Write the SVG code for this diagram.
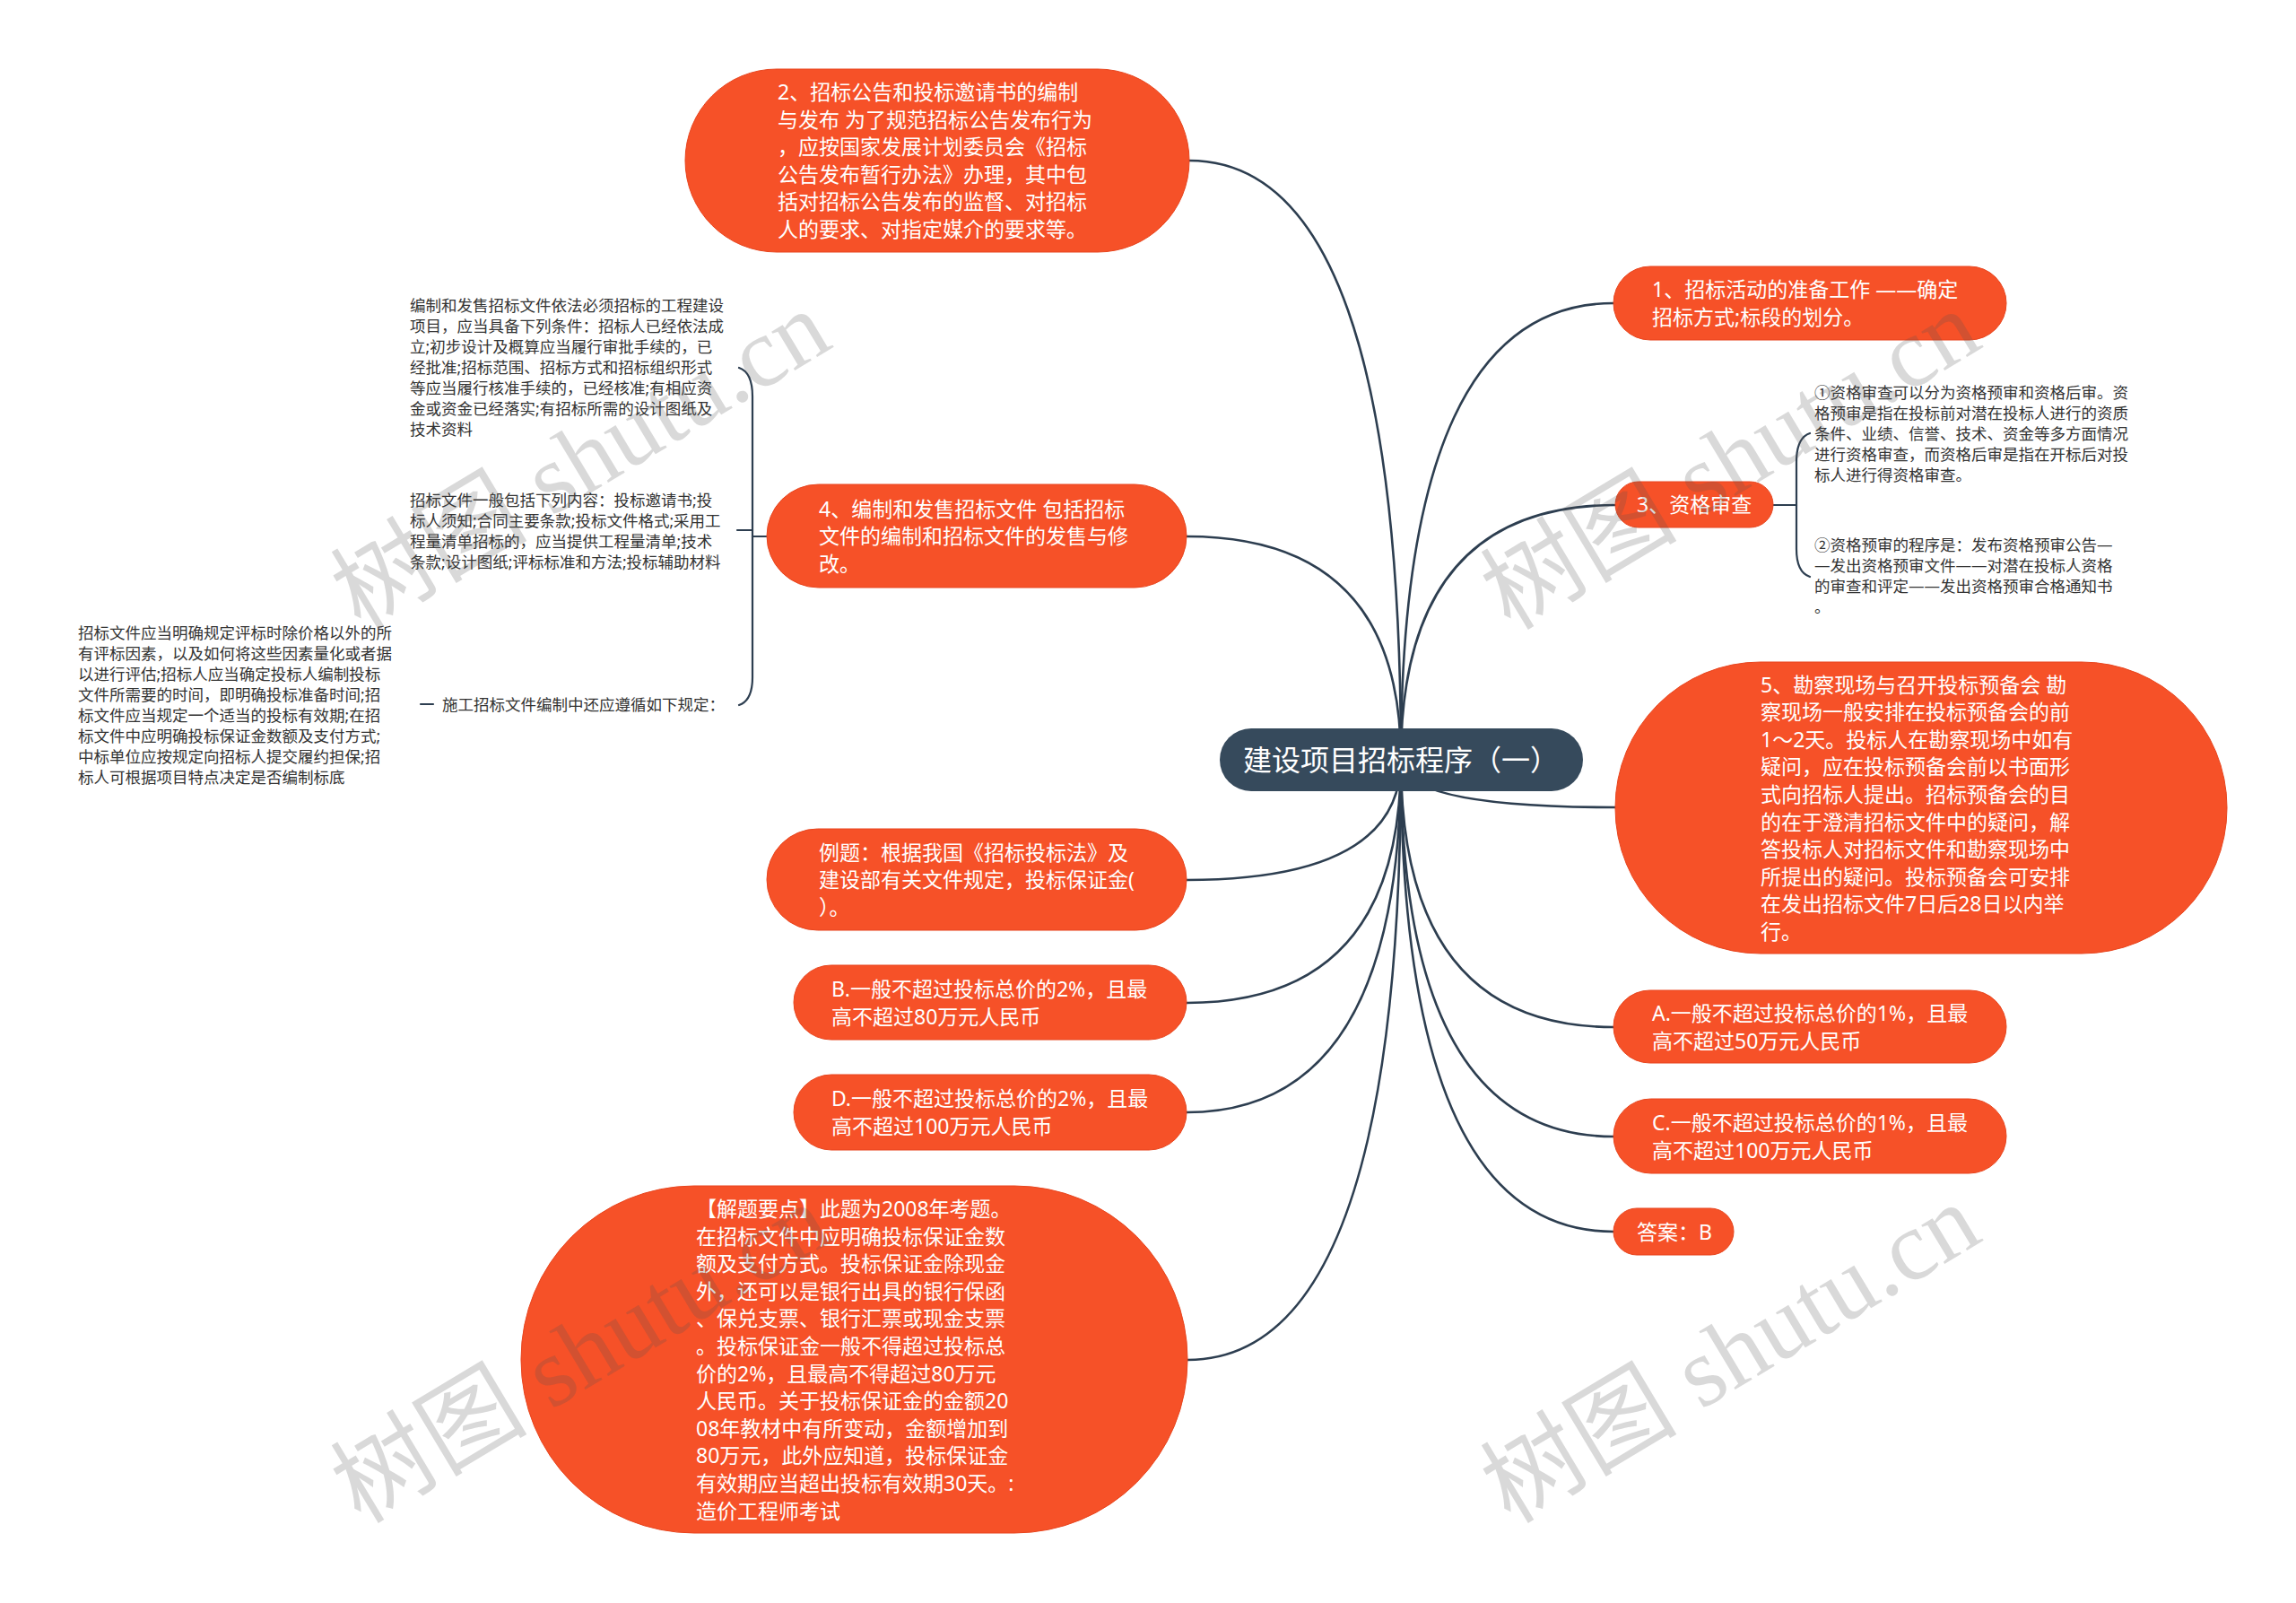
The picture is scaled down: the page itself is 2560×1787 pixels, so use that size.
<svg xmlns="http://www.w3.org/2000/svg" width="2560" height="1787" viewBox="0 0 2560 1787">
<style>
.bg{fill:#FFFFFF}
.edge{fill:none;stroke:#2D3E50;stroke-width:2.6;stroke-linecap:round}
.sub{fill:none;stroke:#2D3E50;stroke-width:2.2;stroke-linecap:round}
.pill{fill:#F65128;stroke:#E8451E;stroke-width:1}
.root{fill:#364A5C}
.t{font-family:"Noto Sans","Noto Sans CJK SC",sans-serif;font-size:23px;fill:#FFFFFF}
.rt{font-family:"Noto Sans","Noto Sans CJK SC",sans-serif;font-size:32px;fill:#FFFFFF}
.s{font-family:"Noto Sans","Noto Sans CJK SC",sans-serif;font-size:17.5px;fill:#333333}
.wm{font-family:"Liberation Serif","Noto Sans CJK SC",serif;font-size:110px;fill:#505050;fill-opacity:0.22}
</style>
<rect class="bg" x="0" y="0" width="2560" height="1787"/>

<g id="connectors">
<path class="edge" d="M1562 847 Q1562 179 1326 179"/>
<path class="edge" d="M1562 847 Q1562 338 1799 338"/>
<path class="edge" d="M1562 847 Q1562 563 1801 563"/>
<path class="edge" d="M1562 847 Q1562 598 1323 598"/>
<path class="edge" d="M1562 847 Q1562 900 1801 900"/>
<path class="edge" d="M1562 847 Q1562 981 1323 981"/>
<path class="edge" d="M1562 847 Q1562 1118 1323 1118"/>
<path class="edge" d="M1562 847 Q1562 1240 1323 1240"/>
<path class="edge" d="M1562 847 Q1562 1145 1799 1145"/>
<path class="edge" d="M1562 847 Q1562 1267 1799 1267"/>
<path class="edge" d="M1562 847 Q1562 1373 1799 1373"/>
<path class="edge" d="M1562 847 Q1562 1516 1324 1516"/>
<!-- node 3 brace -->
<path class="sub" d="M1977 563 L2003 563"/>
<path class="sub" d="M2018 483 Q2003 488 2003 515 L2003 612 Q2003 638 2018 643"/>
<!-- node 4 brace -->
<path class="sub" d="M855 598 L839 598"/>
<path class="sub" d="M824 410 Q839 415 839 442 L839 755 Q839 781 824 786"/>
<path class="sub" d="M839 591 L822 591"/>
<path class="sub" d="M469 785 L483 785"/>
</g>

<g id="node-root">
<rect class="root" x="1360" y="812" width="405" height="70" rx="35"/>
<text class="rt" x="1562" y="859" text-anchor="middle">建设项目招标程序（一）</text>
</g>

<g id="node-2">
<rect class="pill" x="764" y="77" width="562" height="204" rx="102"/>
<text class="t" x="867" y="111"><tspan x="867">2、招标公告和投标邀请书的编制</tspan><tspan x="867" dy="30.6">与发布 为了规范招标公告发布行为</tspan><tspan x="867" dy="30.6">，应按国家发展计划委员会《招标</tspan><tspan x="867" dy="30.6">公告发布暂行办法》办理，其中包</tspan><tspan x="867" dy="30.6">括对招标公告发布的监督、对招标</tspan><tspan x="867" dy="30.6">人的要求、对指定媒介的要求等。</tspan></text>
</g>

<g id="node-1">
<rect class="pill" x="1799" y="297" width="438" height="82" rx="41"/>
<text class="t" x="1842" y="331.4"><tspan x="1842">1、招标活动的准备工作 ——确定</tspan><tspan x="1842" dy="30.6">招标方式;标段的划分。</tspan></text>
</g>

<g id="node-3">
<rect class="pill" x="1801" y="537" width="176" height="51" rx="25.5"/>
<text class="t" x="1825" y="571">3、资格审查</text>
</g>

<g id="node-3a">
<text class="s" x="2023" y="444"><tspan x="2023">①资格审查可以分为资格预审和资格后审。资</tspan><tspan x="2023" dy="23">格预审是指在投标前对潜在投标人进行的资质</tspan><tspan x="2023" dy="23">条件、业绩、信誉、技术、资金等多方面情况</tspan><tspan x="2023" dy="23">进行资格审查，而资格后审是指在开标后对投</tspan><tspan x="2023" dy="23">标人进行得资格审查。</tspan></text>
</g>

<g id="node-3b">
<text class="s" x="2023" y="614"><tspan x="2023">②资格预审的程序是：发布资格预审公告—</tspan><tspan x="2023" dy="23">—发出资格预审文件——对潜在投标人资格</tspan><tspan x="2023" dy="23">的审查和评定——发出资格预审合格通知书</tspan><tspan x="2023" dy="23">。</tspan></text>
</g>

<g id="node-4">
<rect class="pill" x="855" y="540" width="468" height="115" rx="57.5"/>
<text class="t" x="913" y="575.6"><tspan x="913">4、编制和发售招标文件 包括招标</tspan><tspan x="913" dy="30.6">文件的编制和招标文件的发售与修</tspan><tspan x="913" dy="30.6">改。</tspan></text>
</g>

<g id="node-4a">
<text class="s" x="457" y="346.7"><tspan x="457">编制和发售招标文件依法必须招标的工程建设</tspan><tspan x="457" dy="23">项目，应当具备下列条件：招标人已经依法成</tspan><tspan x="457" dy="23">立;初步设计及概算应当履行审批手续的，已</tspan><tspan x="457" dy="23">经批准;招标范围、招标方式和招标组织形式</tspan><tspan x="457" dy="23">等应当履行核准手续的，已经核准;有相应资</tspan><tspan x="457" dy="23">金或资金已经落实;有招标所需的设计图纸及</tspan><tspan x="457" dy="23">技术资料</tspan></text>
</g>

<g id="node-4b">
<text class="s" x="457" y="563.7"><tspan x="457">招标文件一般包括下列内容：投标邀请书;投</tspan><tspan x="457" dy="23">标人须知;合同主要条款;投标文件格式;采用工</tspan><tspan x="457" dy="23">程量清单招标的，应当提供工程量清单;技术</tspan><tspan x="457" dy="23">条款;设计图纸;评标标准和方法;投标辅助材料</tspan></text>
</g>

<g id="node-4c">
<text class="s" x="493" y="791.7">施工招标文件编制中还应遵循如下规定：</text>
</g>

<g id="node-4c1">
<text class="s" x="87" y="711.7"><tspan x="87">招标文件应当明确规定评标时除价格以外的所</tspan><tspan x="87" dy="23">有评标因素，以及如何将这些因素量化或者据</tspan><tspan x="87" dy="23">以进行评估;招标人应当确定投标人编制投标</tspan><tspan x="87" dy="23">文件所需要的时间，即明确投标准备时间;招</tspan><tspan x="87" dy="23">标文件应当规定一个适当的投标有效期;在招</tspan><tspan x="87" dy="23">标文件中应明确投标保证金数额及支付方式;</tspan><tspan x="87" dy="23">中标单位应按规定向招标人提交履约担保;招</tspan><tspan x="87" dy="23">标人可根据项目特点决定是否编制标底</tspan></text>
</g>

<g id="node-5">
<rect class="pill" x="1801" y="738" width="682" height="325" rx="162"/>
<text class="t" x="1963" y="771.5"><tspan x="1963">5、勘察现场与召开投标预备会 勘</tspan><tspan x="1963" dy="30.6">察现场一般安排在投标预备会的前</tspan><tspan x="1963" dy="30.6">1～2天。投标人在勘察现场中如有</tspan><tspan x="1963" dy="30.6">疑问，应在投标预备会前以书面形</tspan><tspan x="1963" dy="30.6">式向招标人提出。招标预备会的目</tspan><tspan x="1963" dy="30.6">的在于澄清招标文件中的疑问，解</tspan><tspan x="1963" dy="30.6">答投标人对招标文件和勘察现场中</tspan><tspan x="1963" dy="30.6">所提出的疑问。投标预备会可安排</tspan><tspan x="1963" dy="30.6">在发出招标文件7日后28日以内举</tspan><tspan x="1963" dy="30.6">行。</tspan></text>
</g>

<g id="node-example">
<rect class="pill" x="855" y="924" width="468" height="113" rx="56.5"/>
<text class="t" x="913" y="958.6"><tspan x="913">例题：根据我国《招标投标法》及</tspan><tspan x="913" dy="30.6">建设部有关文件规定，投标保证金(</tspan><tspan x="913" dy="30.6">）。</tspan></text>
</g>

<g id="node-B">
<rect class="pill" x="885" y="1076" width="438" height="83" rx="41.5"/>
<text class="t" x="927" y="1110.9"><tspan x="927">B.一般不超过投标总价的2%，且最</tspan><tspan x="927" dy="30.6">高不超过80万元人民币</tspan></text>
</g>

<g id="node-D">
<rect class="pill" x="885" y="1198" width="438" height="84" rx="42"/>
<text class="t" x="927" y="1233.4"><tspan x="927">D.一般不超过投标总价的2%，且最</tspan><tspan x="927" dy="30.6">高不超过100万元人民币</tspan></text>
</g>

<g id="node-A">
<rect class="pill" x="1799" y="1104" width="438" height="81" rx="40.5"/>
<text class="t" x="1842" y="1137.9"><tspan x="1842">A.一般不超过投标总价的1%，且最</tspan><tspan x="1842" dy="30.6">高不超过50万元人民币</tspan></text>
</g>

<g id="node-C">
<rect class="pill" x="1799" y="1225" width="438" height="83" rx="41.5"/>
<text class="t" x="1842" y="1259.9"><tspan x="1842">C.一般不超过投标总价的1%，且最</tspan><tspan x="1842" dy="30.6">高不超过100万元人民币</tspan></text>
</g>

<g id="node-answer">
<rect class="pill" x="1799" y="1347" width="134" height="52" rx="26"/>
<text class="t" x="1825" y="1381.7">答案：B</text>
</g>

<g id="node-analysis">
<rect class="pill" x="581" y="1322" width="743" height="387" rx="193"/>
<text class="t" x="776" y="1355.9"><tspan x="776">【解题要点】此题为2008年考题。</tspan><tspan x="776" dy="30.6">在招标文件中应明确投标保证金数</tspan><tspan x="776" dy="30.6">额及支付方式。投标保证金除现金</tspan><tspan x="776" dy="30.6">外，还可以是银行出具的银行保函</tspan><tspan x="776" dy="30.6">、保兑支票、银行汇票或现金支票</tspan><tspan x="776" dy="30.6">。投标保证金一般不得超过投标总</tspan><tspan x="776" dy="30.6">价的2%，且最高不得超过80万元</tspan><tspan x="776" dy="30.6">人民币。关于投标保证金的金额20</tspan><tspan x="776" dy="30.6">08年教材中有所变动，金额增加到</tspan><tspan x="776" dy="30.6">80万元，此外应知道，投标保证金</tspan><tspan x="776" dy="30.6">有效期应当超出投标有效期30天。:</tspan><tspan x="776" dy="30.6">造价工程师考试</tspan></text>
</g>

<g id="watermarks">
<text class="wm" x="648" y="550" text-anchor="middle" transform="rotate(-31 648 514)">树图 shutu.cn</text>
<text class="wm" x="1930" y="550" text-anchor="middle" transform="rotate(-31 1930 514)">树图 shutu.cn</text>
<text class="wm" x="648" y="1546" text-anchor="middle" transform="rotate(-31 648 1510)">树图 shutu.cn</text>
<text class="wm" x="1930" y="1546" text-anchor="middle" transform="rotate(-31 1930 1510)">树图 shutu.cn</text>
</g>
</svg>
